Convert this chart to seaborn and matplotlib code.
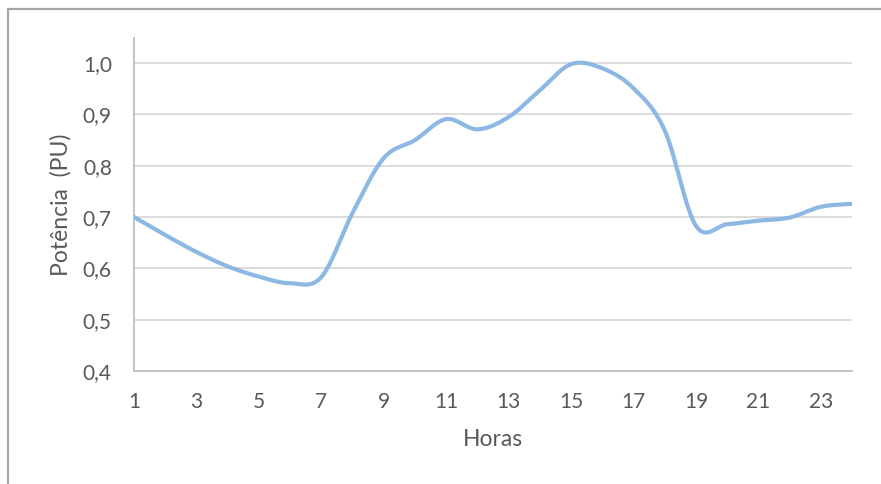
import numpy as np
import pandas as pd
import matplotlib
matplotlib.use("Agg")
import matplotlib.pyplot as plt
from matplotlib.patches import Rectangle
import seaborn as sns

# Hourly load profile in per-unit
horas = list(range(1, 25))
potencia = [0.700, 0.665, 0.632, 0.604, 0.584, 0.571, 0.583, 0.708,
            0.815, 0.850, 0.891, 0.871, 0.895, 0.947, 0.998, 0.990,
            0.951, 0.869, 0.683, 0.686, 0.693, 0.699, 0.720, 0.726]
xticks = list(range(1, 25, 2))
yticks = [0.4, 0.5, 0.6, 0.7, 0.8, 0.9, 1.0]
ytick_labels = ["0,4", "0,5", "0,6", "0,7", "0,8", "0,9", "1,0"]

sns.set_theme(style="white")
plt.rcParams["font.family"] = ["Lato", "DejaVu Sans"]
TXT = "#595959"


def smooth_curve(x, y, n=30):
    """Catmull-Rom spline through the points (spreadsheet-style smoothed line)."""
    x = np.asarray(x, float)
    y = np.asarray(y, float)
    px = np.concatenate([[2 * x[0] - x[1]], x, [2 * x[-1] - x[-2]]])
    py = np.concatenate([[2 * y[0] - y[1]], y, [2 * y[-1] - y[-2]]])
    xs, ys = [], []
    t = np.linspace(0, 1, n, endpoint=False)
    for i in range(1, len(px) - 2):
        for p, out in ((px, xs), (py, ys)):
            p0, p1, p2, p3 = p[i - 1], p[i], p[i + 1], p[i + 2]
            out.extend(0.5 * ((2 * p1) + (-p0 + p2) * t
                              + (2 * p0 - 5 * p1 + 4 * p2 - p3) * t ** 2
                              + (-p0 + 3 * p1 - 3 * p2 + p3) * t ** 3))
    xs.append(x[-1])
    ys.append(y[-1])
    return np.array(xs), np.array(ys)


sx, sy = smooth_curve(horas, potencia)
df = pd.DataFrame({"Horas": sx, "Potência": sy})

fig = plt.figure(figsize=(8.81, 4.84), dpi=100)
ax = fig.add_axes([134 / 881, 1 - 371 / 484, (852 - 134) / 881, (371 - 38) / 484])

# Outer chart frame (runs off the right and bottom edges)
fig.patches.append(Rectangle((7.5 / 881, -0.1), 1.2, 1 - 8.5 / 484 + 0.1,
                             transform=fig.transFigure, fill=False,
                             edgecolor="#A6A6A6", linewidth=1.6, zorder=0))

for v in yticks[1:]:
    ax.axhline(v, color="#D9D9D9", linewidth=1.3, zorder=1)

sns.lineplot(data=df, x="Horas", y="Potência", sort=False, ax=ax,
             color="#8DB8E3", linewidth=3.0, zorder=3)

ax.set_xlim(1, 24)
ax.set_ylim(0.4, 1.049)
ax.set_xticks(xticks)
ax.set_xticklabels([str(v) for v in xticks])
ax.set_yticks(yticks)
ax.set_yticklabels(ytick_labels)
ax.tick_params(axis="both", length=0, labelsize=15, colors=TXT)
ax.tick_params(axis="x", pad=15)
ax.tick_params(axis="y", pad=16)

for s in ("top", "right"):
    ax.spines[s].set_visible(False)
for s in ("left", "bottom"):
    ax.spines[s].set_color("#BFBFBF")
    ax.spines[s].set_linewidth(1.3)

ax.set_xlabel("")
ax.set_ylabel("")
fig.text(493 / 881, 1 - 440 / 484, "Horas", fontsize=16.5, color=TXT,
         ha="center", va="center")
fig.text(61 / 881, 1 - 205 / 484, "Potência  (PU)", fontsize=16.5, color=TXT,
         ha="center", va="center", rotation=90)

fig.savefig("out.png", dpi=100)
